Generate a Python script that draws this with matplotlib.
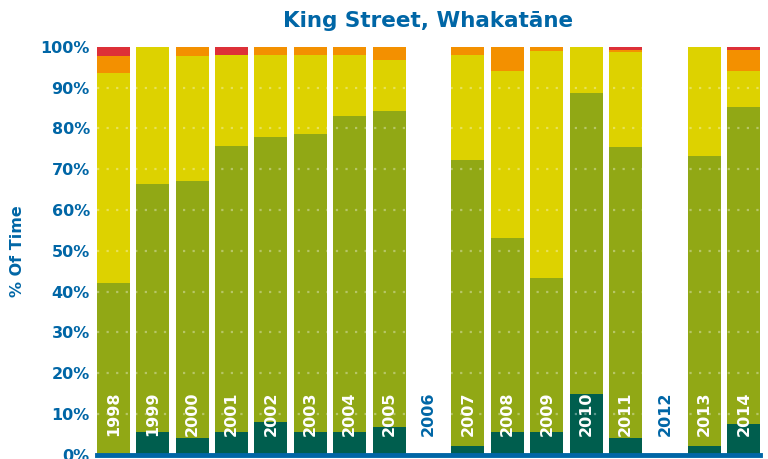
import matplotlib.pyplot as plt
import numpy as np

years = ['1998', '1999', '2000', '2001', '2002', '2003', '2004', '2005', '2006',
         '2007', '2008', '2009', '2010', '2011', '2012', '2013', '2014']
# percent of time in each band (empty years = 0)
band1 = [0.0, 5.5, 4.2, 5.5, 8.1, 5.5, 5.5, 6.9, 0, 2.2, 5.5, 5.5, 15.0, 4.2, 0, 2.2, 7.6]
band2 = [42.2, 60.9, 63.0, 70.1, 69.7, 73.2, 77.6, 77.4, 0, 70.1, 47.7, 37.9, 73.7, 71.3, 0, 71.1, 77.7]
band3 = [51.4, 33.6, 30.6, 22.4, 20.2, 19.3, 14.9, 12.5, 0, 25.7, 40.9, 55.6, 11.3, 23.3, 0, 26.7, 8.8]
band4 = [4.2, 0, 2.2, 0, 2.0, 2.0, 2.0, 3.2, 0, 2.0, 5.9, 1.0, 0, 0.4, 0, 0, 5.2]
band5 = [2.2, 0, 0, 2.0, 0, 0, 0, 0, 0, 0, 0, 0, 0, 0.8, 0, 0, 0.7]

bands = [band1, band2, band3, band4, band5]
colors = ['#005E4E', '#91A815', '#DDD200', '#F39000', '#DD3038']
blue = '#0066A6'

plt.rcParams['font.family'] = ['DejaVu Sans']

fig = plt.figure(figsize=(7.68, 4.59), dpi=100)
ax = fig.add_axes([0.126, 0.009, 0.864, 0.889])

x = np.arange(len(years))
bottom = np.zeros(len(years))
for vals, c in zip(bands, colors):
    vals = np.array(vals)
    ax.bar(x, vals, bottom=bottom, width=0.84, color=c, zorder=2)
    bottom += vals

# faint dotted grid on top of the bars
for g in range(10, 100, 10):
    ax.axhline(g, color='white', alpha=0.35, linewidth=1.6,
               linestyle=(0, (1, 3.3)), zorder=3)

# year labels inside bars
for i, yr in enumerate(years):
    empty = bottom[i] == 0
    ax.text(i, 4.7, yr, rotation=90, ha='center', va='bottom',
            color=blue if empty else 'white', fontsize=11.5,
            fontweight='bold', zorder=4)

ax.set_xlim(-0.42, len(years) - 0.58)
ax.set_ylim(0, 100)
ax.set_xticks([])
ax.set_yticks(range(0, 101, 10))
ax.set_yticklabels([f'{v}%' for v in range(0, 101, 10)],
                   color=blue, fontsize=11.5, fontweight='bold')
ax.tick_params(axis='y', length=0, pad=5)

for s in ['top', 'right', 'left']:
    ax.spines[s].set_visible(False)
ax.spines['bottom'].set_color(blue)
ax.spines['bottom'].set_linewidth(3.5)
ax.spines['bottom'].set_zorder(5)

ax.set_ylabel('% Of Time', color=blue, fontsize=11.5, fontweight='bold', labelpad=11)
ax.set_title('King Street, Whakatāne', color=blue, fontsize=15.5,
             fontweight='bold', pad=14)

fig.savefig('out.png', dpi=100)
